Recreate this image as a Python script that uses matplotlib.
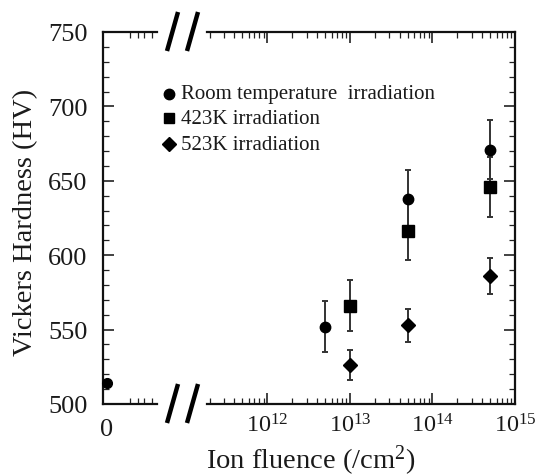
import matplotlib
matplotlib.use("Agg")
import matplotlib.pyplot as plt
from matplotlib.lines import Line2D
from matplotlib.ticker import LogLocator, NullFormatter, FixedLocator, MultipleLocator
import numpy as np

plt.rcParams['font.family'] = ['Liberation Serif', 'DejaVu Serif']
plt.rcParams['mathtext.fontset'] = 'custom'
plt.rcParams['mathtext.rm'] = 'Liberation Serif'
plt.rcParams['mathtext.it'] = 'Liberation Serif:italic'
plt.rcParams['text.color'] = '#1a1a1a'
plt.rcParams['xtick.labelcolor'] = '#1a1a1a'
plt.rcParams['ytick.labelcolor'] = '#1a1a1a'

# ---- data ----
labels = ["Room temperature  irradiation", "423K irradiation", "523K irradiation"]
# unirradiated point (fluence 0)
zero_hv = 514
# room temperature
rt_fluence = [5e12, 5e13, 5e14]
rt_hv = [552, 638, 671]
rt_err = [17, 19, 20]
# 423 K
k423_fluence = [1e13, 5e13, 5e14]
k423_hv = [566, 616, 646]
k423_err = [17, 19, 20]
# 523 K
k523_fluence = [1e13, 5e13, 5e14]
k523_hv = [526, 553, 586]
k523_err = [10, 11, 12]

W, H = 537, 477
fig = plt.figure(figsize=(W/100, H/100), dpi=100)

def rect(x0, x1, ytop, ybot):
    return [x0/W, 1-ybot/H, (x1-x0)/W, (ybot-ytop)/H]

axL = fig.add_axes(rect(103, 157, 33, 405))
axR = fig.add_axes(rect(207, 515, 33, 405))

ylim = (500, 750)
for ax in (axL, axR):
    ax.set_ylim(*ylim)
    ax.patch.set_alpha(0)
    for s in ax.spines.values():
        s.set_linewidth(1.6)
        s.set_color('#111111')

# left segment
axL.set_xlim(-0.08, 1)
axL.spines['right'].set_visible(False)
axL.set_xticks([0])
axL.set_xticklabels(['0'])
axL.xaxis.set_minor_locator(FixedLocator([0.45, 0.62, 0.74, 0.9]))
axL.yaxis.set_major_locator(MultipleLocator(50))
axL.yaxis.set_minor_locator(MultipleLocator(10))
axL.tick_params(axis='both', which='both', direction='in', top=True, right=False,
                color='#222222')
axL.tick_params(axis='y', labelsize=19)
axL.tick_params(axis='x', labelsize=19)
axL.tick_params(axis='x', which='major', length=0, pad=10)
axL.tick_params(axis='y', which='major', length=8, width=1.2, pad=11)
axL.tick_params(axis='both', which='minor', length=4, width=0.9)

axL.plot([0], [zero_hv], 'o', color='black', ms=7, clip_on=False, zorder=5)

# right segment (log)
axR.set_xscale('log')
axR.set_xlim(10**11.27, 1e15)
axR.spines['left'].set_visible(False)
axR.xaxis.set_major_locator(LogLocator(base=10, numticks=10))
axR.xaxis.set_minor_locator(LogLocator(base=10, subs=np.arange(2, 10), numticks=20))
axR.xaxis.set_minor_formatter(NullFormatter())
axR.yaxis.set_major_locator(MultipleLocator(50))
axR.yaxis.set_minor_locator(MultipleLocator(10))
axR.tick_params(axis='both', which='both', direction='in', top=True, right=True,
                left=False, labelleft=False, color='#222222')
axR.tick_params(axis='x', labelsize=17.5)
axR.tick_params(axis='x', which='major', length=8, width=1.2, pad=7)
axR.tick_params(axis='y', which='major', length=8, width=1.2)
axR.tick_params(axis='both', which='minor', length=4, width=0.9)

ekw = dict(ecolor='#333333', elinewidth=1.4, capsize=2.5, capthick=1.4, linestyle='none',
           color='black', clip_on=False)
axR.errorbar(rt_fluence, rt_hv, yerr=rt_err, marker='o', ms=7.5, zorder=4, **ekw)
axR.errorbar(k423_fluence, k423_hv, yerr=k423_err, marker='s', ms=8, zorder=4, **ekw)
axR.errorbar(k523_fluence, k523_hv, yerr=k523_err, marker='D', ms=7.5, zorder=4, **ekw)

# break marks
for yc in (33, 405):
    for x0 in (167, 187):
        fig.add_artist(Line2D([x0/W, (x0+11)/W], [1-(yc+19)/H, 1-(yc-20)/H],
                              color='black', lw=3.2, solid_capstyle='butt'))

# axis labels
fig.text(311/W, 1-461/H, 'Ion fluence (/cm$^2$)', ha='center', va='center', fontsize=20.5)
fig.text(26/W, 1-222/H, 'Vickers Hardness (HV)', ha='center', va='center',
         rotation=90, fontsize=20.5)

# legend (manual)
leg_markers = ['o', 's', 'D']
leg_ms = [7.5, 7.5, 7.5]
leg_y = [95, 119, 145]
for m, ms, yy, lab in zip(leg_markers, leg_ms, leg_y, labels):
    fig.add_artist(Line2D([169/W], [1-yy/H], marker=m, ms=ms, color='black', linestyle='none'))
    fig.text(181/W, 1-yy/H, lab, ha='left', va='center', fontsize=15)

fig.savefig('out.png', dpi=100)
